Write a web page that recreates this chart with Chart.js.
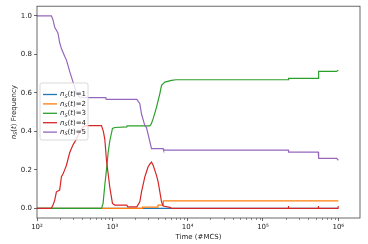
<!DOCTYPE html>
<html>
<head>
<meta charset="utf-8">
<script src="https://cdn.jsdelivr.net/npm/chart.js@4"></script>
<style>
  html, body { margin: 0; padding: 0; background: #fff; }
  canvas { display: block; }
</style>
</head>
<body>
<canvas id="grafica" width="368" height="244"></canvas>
<script>
// datos: tiempo (#MCS) y frecuencia por cada n_S(t)
const etiquetas = ["1", "2", "3", "4", "5"];
const colores = ["#1f77b4", "#ff7f0e", "#2ca02c", "#d62728", "#9467bd"];

const tiempos1 = [100, 1000000];
const frec1 = [0, 0];

const tiempos2 = [100, 2500, 2520, 4000, 4030, 4724, 4760, 1000000];
const frec2 = [0, 0, 0.006, 0.006, 0.017, 0.017, 0.039, 0.039];

const tiempos3 = [100, 718, 754, 794, 836, 880, 925, 1004, 1078, 1557, 1570, 3145, 3300, 3483, 3865, 4055, 4274, 4500, 4976, 6107, 7000, 217000, 219000, 542000, 548000, 950000, 1000000];
const frec3 = [0, 0, 0.026, 0.12, 0.2, 0.29, 0.35, 0.415, 0.42, 0.423, 0.428, 0.428, 0.44, 0.466, 0.526, 0.56, 0.596, 0.639, 0.656, 0.665, 0.668, 0.668, 0.675, 0.675, 0.711, 0.711, 0.718];

const tiempos4 = [100, 155, 163, 172, 181, 190, 200, 211, 222, 233, 246, 272, 301, 334, 369, 408, 453, 718, 760, 794, 836, 880, 925, 1004, 1078, 1557, 1600, 2113, 2317, 2440, 2700, 2843, 2986, 3145, 3313, 3483, 3865, 4055, 4274, 4500, 4724, 5797, 6107, 215000, 217000, 219000, 538000, 542000, 548000, 990000, 1000000];
const frec4 = [0, 0, 0.017, 0.043, 0.086, 0.09, 0.095, 0.165, 0.18, 0.2, 0.224, 0.29, 0.33, 0.36, 0.397, 0.423, 0.43, 0.43, 0.40, 0.36, 0.25, 0.18, 0.11, 0.026, 0.017, 0.017, 0.008, 0.008, 0.034, 0.086, 0.164, 0.19, 0.216, 0.23, 0.24, 0.224, 0.17, 0.138, 0.086, 0.034, 0.012, 0.005, 0, 0, 0.012, 0, 0, 0.012, 0, 0, 0.012];

const tiempos5 = [100, 155, 163, 172, 181, 190, 200, 211, 233, 246, 272, 301, 334, 369, 408, 820, 830, 2113, 2317, 2440, 2700, 2843, 3313, 4724, 4800, 217000, 219000, 542000, 548000, 950000, 1000000];
const frec5 = [1.0, 1.0, 0.98, 0.94, 0.925, 0.91, 0.86, 0.83, 0.79, 0.77, 0.71, 0.656, 0.60, 0.578, 0.575, 0.575, 0.566, 0.566, 0.544, 0.49, 0.43, 0.42, 0.31, 0.31, 0.302, 0.302, 0.292, 0.292, 0.26, 0.26, 0.25];

const ticksX = [100, 1000, 10000, 100000, 1000000];
const ticksY = [0, 0.2, 0.4, 0.6, 0.8, 1.0];

const series = [
    [tiempos1, frec1], [tiempos2, frec2], [tiempos3, frec3], [tiempos4, frec4], [tiempos5, frec5]
];

const FUENTE = "'DejaVu Sans'";
const superindices = { 2: "\u00b2", 3: "\u00b3", 4: "\u2074", 5: "\u2075", 6: "\u2076" };

// dibuja "n_S(t)" + resto; si medir=true solo devuelve el ancho
function textoNS(ctx, x, y, resto, tam, medir) {
    const piezas = [
        { t: "n", f: "italic " + tam + "px " + FUENTE, dy: 0 },
        { t: "S", f: "italic " + (tam * 0.7) + "px " + FUENTE, dy: tam * 0.28 },
        { t: "(", f: tam + "px " + FUENTE, dy: 0 },
        { t: "t", f: "italic " + tam + "px " + FUENTE, dy: 0 },
        { t: ")" + resto, f: tam + "px " + FUENTE, dy: 0 }
    ];
    let ancho = 0;
    piezas.forEach(p => {
        ctx.font = p.f;
        if (!medir) ctx.fillText(p.t, x + ancho, y + p.dy);
        ancho += ctx.measureText(p.t).width;
    });
    return ancho;
}

const marcoYExtras = {
    id: "marcoYExtras",
    afterDraw(chart) {
        const ctx = chart.ctx;
        const area = chart.chartArea;
        const sx = chart.scales.x;
        ctx.save();

        // ticks menores del eje log
        ctx.strokeStyle = "#444";
        ctx.lineWidth = 0.6;
        for (let p = 2; p <= 6; p++) {
            for (let m = 2; m <= 9; m++) {
                const v = m * Math.pow(10, p);
                if (v > sx.max) continue;
                const px = Math.round(sx.getPixelForValue(v)) + 0.5;
                ctx.beginPath();
                ctx.moveTo(px, area.bottom);
                ctx.lineTo(px, area.bottom + 2);
                ctx.stroke();
            }
        }

        // marco
        ctx.strokeStyle = "#444";
        ctx.lineWidth = 0.8;
        ctx.strokeRect(area.left, area.top, area.right - area.left, area.bottom - area.top);

        // titulo eje x
        ctx.fillStyle = "#222";
        ctx.font = "7px " + FUENTE;
        ctx.textAlign = "center";
        ctx.textBaseline = "middle";
        ctx.fillText("Time (#MCS)", (area.left + area.right) / 2, 237);

        // titulo eje y
        ctx.textAlign = "left";
        const anchoY = textoNS(ctx, 0, 0, " Frequency", 7, true);
        ctx.save();
        ctx.translate(14, (area.top + area.bottom) / 2);
        ctx.rotate(-Math.PI / 2);
        textoNS(ctx, -anchoY / 2, 0, " Frequency", 7, false);
        ctx.restore();

        // leyenda
        const lx = 40, ly = 83, lw = 48, lh = 57;
        ctx.fillStyle = "rgba(255,255,255,0.8)";
        ctx.strokeStyle = "#d0d0d0";
        ctx.lineWidth = 0.8;
        ctx.beginPath();
        ctx.roundRect(lx, ly, lw, lh, 2);
        ctx.fill();
        ctx.stroke();
        etiquetas.forEach((et, i) => {
            const yy = 94.5 + i * 9.4;
            ctx.strokeStyle = colores[i];
            ctx.lineWidth = 1.3;
            ctx.beginPath();
            ctx.moveTo(43, yy);
            ctx.lineTo(57, yy);
            ctx.stroke();
            ctx.fillStyle = "#222";
            textoNS(ctx, 60, yy, "=" + et, 7, false);
        });

        ctx.restore();
    }
};

new Chart(document.getElementById("grafica"), {
    type: "line",
    data: {
        datasets: series.map(([t, f], i) => ({
            label: "n_S(t)=" + etiquetas[i],
            data: t.map((v, j) => ({ x: v, y: f[j] })),
            borderColor: colores[i],
            backgroundColor: colores[i],
            borderWidth: 1.2,
            pointRadius: 0,
            tension: 0,
            fill: false,
            order: 5 - i
        }))
    },
    options: {
        responsive: false,
        animation: false,
        devicePixelRatio: 1,
        layout: { padding: { top: 6, right: 8, left: 0, bottom: 0 } },
        plugins: { legend: { display: false }, tooltip: { enabled: false } },
        scales: {
            x: {
                type: "logarithmic",
                min: 100,
                max: 1940000,
                afterBuildTicks: s => { s.ticks = ticksX.map(v => ({ value: v })); },
                afterFit: s => { s.height = 26; },
                ticks: {
                    autoSkip: false,
                    maxRotation: 0,
                    padding: 2,
                    color: "#222",
                    font: { family: "DejaVu Sans", size: 7 },
                    callback: v => "10" + superindices[Math.round(Math.log10(v))]
                },
                grid: { drawOnChartArea: false, tickLength: 3, color: "#444", tickWidth: 0.8 },
                border: { display: false }
            },
            y: {
                min: -0.05,
                max: 1.05,
                afterBuildTicks: s => { s.ticks = ticksY.map(v => ({ value: v })); },
                afterFit: s => { s.width = 37; },
                ticks: {
                    padding: 2,
                    color: "#222",
                    font: { family: "DejaVu Sans", size: 7 },
                    callback: v => v.toFixed(1)
                },
                grid: { drawOnChartArea: false, tickLength: 3, color: "#444", tickWidth: 0.8 },
                border: { display: false }
            }
        }
    },
    plugins: [marcoYExtras]
});
</script>
</body>
</html>
